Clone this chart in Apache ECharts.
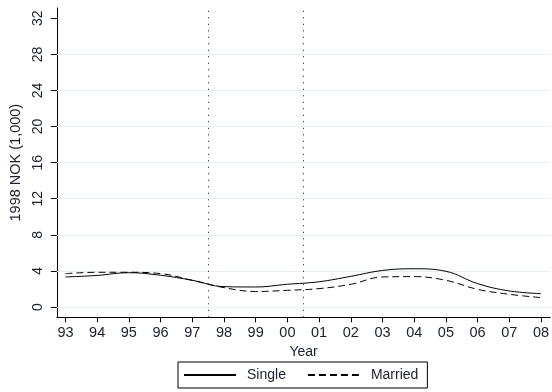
<!DOCTYPE html>
<html>
<head>
<meta charset="utf-8">
<script src="https://cdn.jsdelivr.net/npm/echarts@6/dist/echarts.min.js"></script>
<style>
  html, body { margin: 0; padding: 0; background: #fff; }
  #chart { width: 552px; height: 392px; }
</style>
</head>
<body>
<div id="chart"></div>
<script>
// Years on the horizontal axis and their two-digit labels
const years = [1993, 1994, 1995, 1996, 1997, 1998, 1999, 2000, 2001, 2002, 2003, 2004, 2005, 2006, 2007, 2008];
const yearLabels = ['93', '94', '95', '96', '97', '98', '99', '00', '01', '02', '03', '04', '05', '06', '07', '08'];

// Amounts in 1998 NOK (1,000)
const single  = [3.33, 3.50, 3.80, 3.52, 2.96, 2.26, 2.22, 2.52, 2.80, 3.40, 4.05, 4.24, 3.96, 2.59, 1.78, 1.48];
const married = [3.70, 3.85, 3.85, 3.70, 2.96, 2.15, 1.72, 1.85, 2.04, 2.52, 3.33, 3.37, 2.96, 1.96, 1.41, 1.04];

// Reform markers between years
const markerYears = [1997.5, 2000.5];
const yTicks = [0, 4, 8, 12, 16, 20, 24, 28, 32];
const gridValues = [0, 4, 8, 12, 16, 20, 24, 28];

const textColor = '#1b1f2e';
const font = 'Liberation Sans, Arial, sans-serif';

const chart = echarts.init(document.getElementById('chart'), null, { renderer: 'canvas' });

const gridLines = gridValues.map(v => ({
  yAxis: v,
  lineStyle: { color: '#e8f0f2', width: 1, type: 'solid' }
}));
const markerLines = markerYears.map(x => ({
  xAxis: x,
  lineStyle: { color: '#111', width: 1, type: [1, 5.5] }
}));

chart.setOption({
  animation: false,
  backgroundColor: '#ffffff',
  grid: { left: 52, right: 1, top: 8, bottom: 74.7, containLabel: false },
  xAxis: {
    type: 'value',
    min: 1992.73,
    max: 2008.29,
    name: 'Year',
    nameLocation: 'middle',
    nameGap: 21,
    nameTextStyle: { color: textColor, fontSize: 14, fontFamily: font },
    axisLine: { show: true, onZero: false, lineStyle: { color: '#000', width: 1 } },
    axisTick: { show: true, length: 5, customValues: years, lineStyle: { color: '#000' } },
    axisLabel: {
      customValues: years,
      margin: 8,
      color: textColor,
      fontSize: 14.5,
      fontFamily: font,
      formatter: v => yearLabels[years.indexOf(Math.round(v))] || ''
    },
    splitLine: { show: false }
  },
  yAxis: {
    type: 'value',
    min: -1.14,
    max: 33.14,
    name: '1998 NOK (1,000)',
    nameLocation: 'middle',
    nameGap: 28,
    nameTextStyle: { color: textColor, fontSize: 14.5, fontFamily: font },
    axisLine: { show: true, onZero: false, lineStyle: { color: '#000', width: 1 } },
    axisTick: { show: true, length: 6, customValues: yTicks, lineStyle: { color: '#000' } },
    axisLabel: {
      customValues: yTicks,
      rotate: 90,
      margin: 12,
      color: textColor,
      fontSize: 14,
      fontFamily: font
    },
    splitLine: { show: false }
  },
  legend: {
    left: 178,
    top: 362,
    padding: [6, 9, 6, 5],
    borderColor: '#000',
    borderWidth: 1,
    borderRadius: 0,
    itemWidth: 52,
    itemHeight: 14,
    itemGap: 21,
    itemStyle: { opacity: 0 },
    textStyle: { color: textColor, fontSize: 14, fontFamily: font, padding: [0, 0, 0, 6] },
    data: ['Single', 'Married']
  },
  series: [
    {
      name: 'Single',
      type: 'line',
      data: years.map((y, i) => [y, single[i]]),
      symbol: 'none',
      smooth: 0.4,
      lineStyle: { color: '#000', width: 1, type: 'solid' },
      itemStyle: { color: '#000' },
      z: 5,
      markLine: {
        silent: true,
        symbol: 'none',
        label: { show: false },
        animation: false,
        data: gridLines.concat(markerLines)
      }
    },
    {
      name: 'Married',
      type: 'line',
      data: years.map((y, i) => [y, married[i]]),
      symbol: 'none',
      smooth: 0.4,
      lineStyle: { color: '#000', width: 1, type: [7, 4] },
      itemStyle: { color: '#000' },
      z: 5
    }
  ]
});
</script>
</body>
</html>
